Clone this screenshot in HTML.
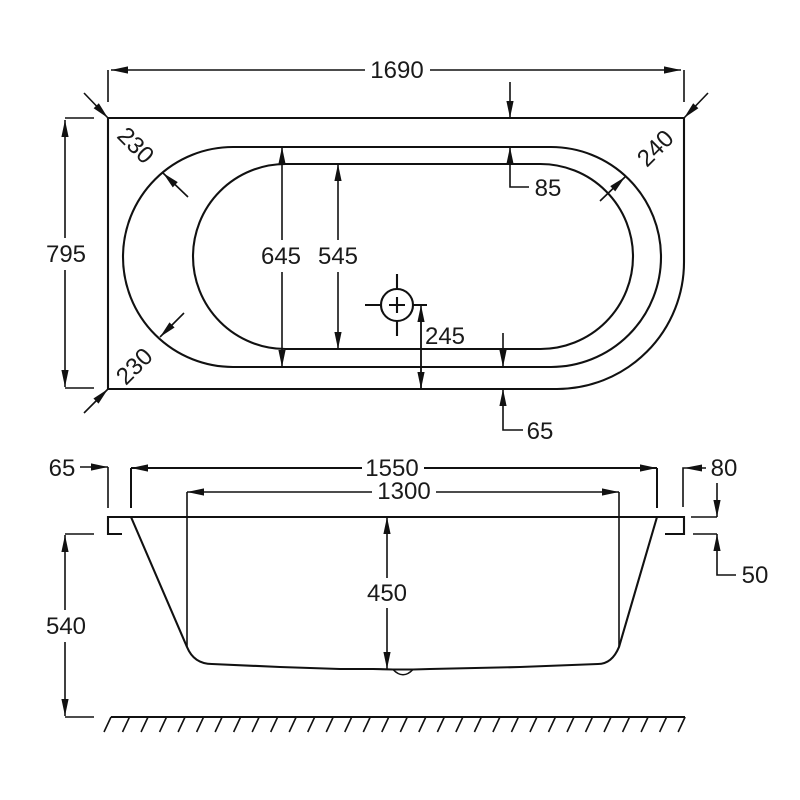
<!DOCTYPE html>
<html>
<head>
<meta charset="utf-8">
<style>
html,body{margin:0;padding:0;background:#fff;}
svg{display:block;}
text{font-family:"Liberation Sans",sans-serif;font-size:24px;fill:#1a1a1a;text-anchor:middle;}
.m{fill:none;stroke:#111;stroke-width:2.1;}
.d{fill:none;stroke:#111;stroke-width:1.6;}
.a{fill:none;stroke:#111;stroke-width:1.6;marker-end:url(#h);}
</style>
</head>
<body>
<svg width="800" height="800" viewBox="0 0 800 800" xmlns="http://www.w3.org/2000/svg">
<defs>
<marker id="h" markerUnits="userSpaceOnUse" markerWidth="20" markerHeight="10" refX="18" refY="5" orient="auto">
<path d="M18 5L1 1.4L1 8.6Z" fill="#111"/>
</marker>
</defs>
<rect width="800" height="800" fill="#fff"/>

<!-- plan view outlines -->
<path class="m" d="M108 118H684V262A127 127 0 0 1 557 389H108Z"/>
<path class="m" d="M233 147H551A110 110 0 0 1 551 367H233A110 110 0 0 1 233 147Z"/>
<path class="m" d="M285.5 164H540.5A92.5 92.5 0 0 1 540.5 349H285.5A92.5 92.5 0 0 1 285.5 164Z"/>

<!-- waste -->
<circle class="m" cx="397" cy="305" r="16"/>
<path class="m" d="M365 305H381M413 305H427M397 274V290M397 320V336M389 305H405M397 297V313"/>

<!-- 1690 -->
<path class="d" d="M108 102V70"/>
<path class="d" d="M684 102V70"/>
<path class="a" d="M365 70H111"/>
<path class="a" d="M430 70H681"/>
<text x="397" y="78">1690</text>

<!-- corner arrows -->
<path class="a" d="M84 93L108 118"/>
<path class="a" d="M708 93L684 118"/>
<path class="a" d="M84 413L108 389"/>

<!-- 795 -->
<path class="d" d="M94 118H65M94 388H65"/>
<path class="a" d="M65 238V120"/>
<path class="a" d="M65 270V387"/>
<text x="66" y="262">795</text>

<!-- 645 / 545 -->
<path class="a" d="M282 240V147"/>
<path class="a" d="M282 272V367"/>
<path class="a" d="M338 240V164"/>
<path class="a" d="M338 272V349"/>
<text x="281" y="264">645</text>
<text x="338" y="264">545</text>

<!-- 85 -->
<path class="a" d="M510 82V118"/>
<path class="d" d="M529 187H510V164"/>
<path class="a" d="M510 164V147"/>
<text x="548" y="196">85</text>

<!-- radius arrows -->
<path class="a" d="M188 197L163 173"/>
<path class="a" d="M184 313L160 337"/>
<path class="a" d="M600 201L625 177"/>
<text transform="translate(136 145) rotate(45)" y="8.5">230</text>
<text transform="translate(134 366) rotate(-45)" y="8.5">230</text>
<text transform="translate(655 148) rotate(-45)" y="8.5">240</text>

<!-- 245 -->
<path class="d" d="M413 305H427"/>
<path class="a" d="M421 389V305"/>
<path class="a" d="M421 322V389"/>
<text x="445" y="344">245</text>

<!-- 65 plan -->
<path class="a" d="M503 333V367"/>
<path class="a" d="M523 430H503V389"/>
<text x="540" y="439">65</text>

<!-- section -->
<path class="m" d="M122 534H108V517H684V534H665"/>
<path class="m" d="M131 517L187 647Q194 664 212 664L280 667L340 669L373 669L393 669.5H413L430 669L520 667L598 664Q612 664 619 647L657 517"/>
<path class="d" d="M393 669.5Q403 680 413 669.5"/>

<!-- 1550 -->
<path class="d" d="M131 508V468M657 508V468" style="stroke-width:2"/>
<path class="a" d="M362 468H131" style="stroke-width:2"/>
<path class="a" d="M424 468H657" style="stroke-width:2"/>
<text x="392" y="476">1550</text>

<!-- 1300 -->
<path class="d" d="M187 647V492M619 647V492"/>
<path class="a" d="M372 492H187"/>
<path class="a" d="M436 492H619"/>
<text x="404" y="499">1300</text>

<!-- 65 section -->
<path class="d" d="M108 508V467"/>
<path class="a" d="M80 467H108"/>
<text x="62" y="476">65</text>

<!-- 80 -->
<path class="d" d="M683 507V468H706"/>
<path d="M684 468L702 464.5V471.5Z" fill="#111"/>
<text x="724" y="476">80</text>
<path class="d" d="M691 517H717"/>
<path class="a" d="M717 483V517"/>

<!-- 50 -->
<path class="d" d="M693 534H717"/>
<path class="a" d="M736 575H717V534"/>
<text x="755" y="583">50</text>

<!-- 450 -->
<path class="a" d="M387 578V517"/>
<path class="a" d="M387 608V669"/>
<text x="387" y="601">450</text>

<!-- 540 -->
<path class="d" d="M94 534H65M94 717H65"/>
<path class="a" d="M65 610V535"/>
<path class="a" d="M65 642V716"/>
<text x="66" y="634">540</text>

<!-- ground -->
<path class="m" d="M111 717H685"/>
<path class="d" d="M111 717l-7 15m25.52-15l-7 15m25.52-15l-7 15m25.52-15l-7 15m25.52-15l-7 15m25.52-15l-7 15m25.52-15l-7 15m25.52-15l-7 15m25.52-15l-7 15m25.52-15l-7 15m25.52-15l-7 15m25.52-15l-7 15m25.52-15l-7 15m25.52-15l-7 15m25.52-15l-7 15m25.52-15l-7 15m25.52-15l-7 15m25.52-15l-7 15m25.52-15l-7 15m25.52-15l-7 15m25.52-15l-7 15m25.52-15l-7 15m25.52-15l-7 15m25.52-15l-7 15m25.52-15l-7 15m25.52-15l-7 15m25.52-15l-7 15m25.52-15l-7 15m25.52-15l-7 15m25.52-15l-7 15m25.52-15l-7 15m25.52-15l-7 15"/>
</svg>
</body>
</html>
